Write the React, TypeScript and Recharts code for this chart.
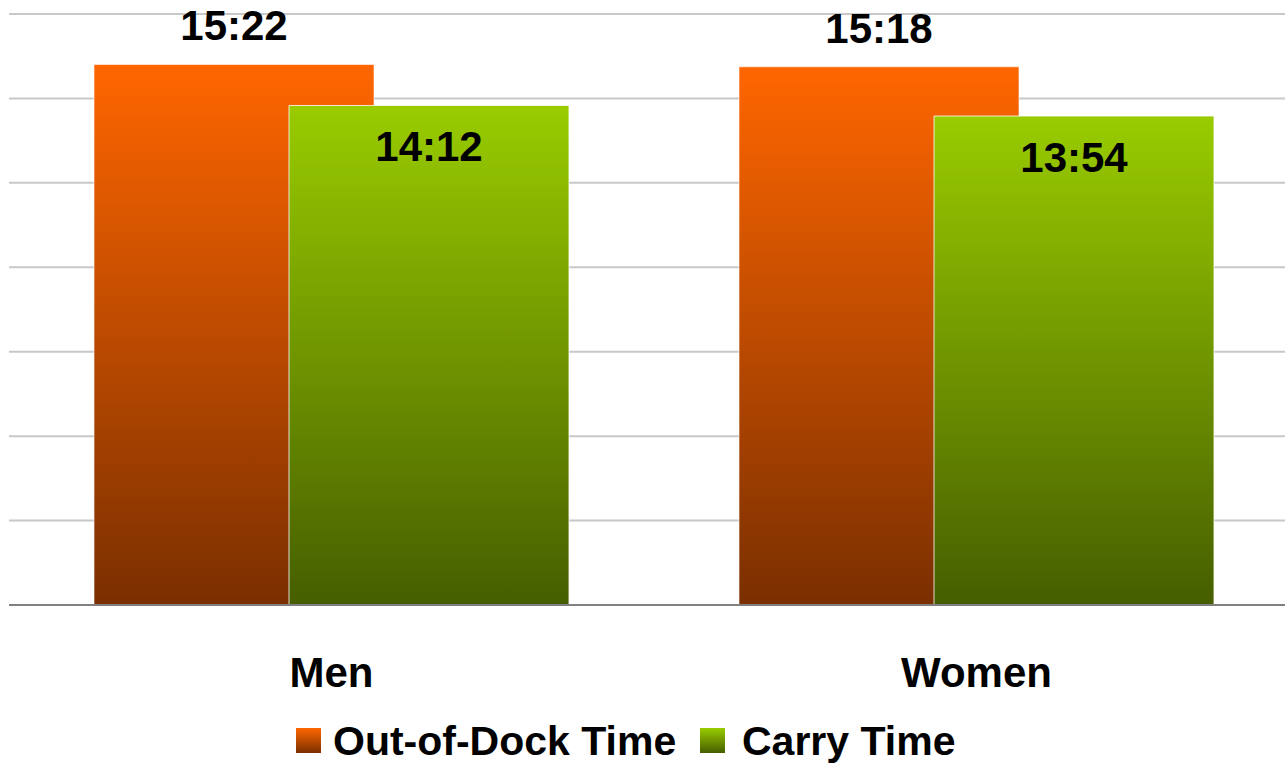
import { BarChart, Bar, XAxis, YAxis, CartesianGrid, LabelList } from "recharts";

// times in seconds
const categories = ["Men", "Women"];
const outOfDock = [922, 918]; // 15:22, 15:18
const carryTime = [852, 834]; // 14:12, 13:54
const yTicks = [0, 144, 288, 432, 576, 720, 864, 1008];

const chartData = categories.map((name, i) => ({
  name,
  outOfDock: outOfDock[i],
  carry: carryTime[i],
}));

const FONT = '"Liberation Sans", Arial, sans-serif';

const fmt = (sec: number) => {
  const m = Math.floor(sec / 60);
  const s = sec % 60;
  return `${m}:${s < 10 ? "0" : ""}${s}`;
};

const makeLabel = (dy: number) => (props: any) => {
  const { x, y, width, value } = props;
  return (
    <text
      x={x + width / 2}
      y={y + dy}
      textAnchor="middle"
      fontFamily={FONT}
      fontWeight="bold"
      fontSize={42}
      fill="#000"
    >
      {fmt(value)}
    </text>
  );
};

const CategoryTick = ({ x, y, payload }: any) => (
  <text
    x={x}
    y={y + 82}
    textAnchor="middle"
    fontFamily={FONT}
    fontWeight="bold"
    fontSize={42}
    fill="#000"
  >
    {payload.value}
  </text>
);

export default function App() {
  return (
    <div
      style={{
        position: "absolute",
        left: 0,
        top: 0,
        width: 1285,
        height: 763,
        overflow: "hidden",
        background: "#fff",
        fontFamily: FONT,
      }}
    >
      <BarChart
        width={1299}
        height={763}
        data={chartData}
        margin={{ top: 14, right: 0, left: 9, bottom: 0 }}
        barSize={280}
        barGap={-85}
      >
        <defs>
          <linearGradient id="gOrange" x1="0" y1="0" x2="0" y2="1">
            <stop offset="0%" stopColor="#ff6600" />
            <stop offset="100%" stopColor="#7a2f00" />
          </linearGradient>
          <linearGradient id="gGreen" x1="0" y1="0" x2="0" y2="1">
            <stop offset="0%" stopColor="#99cc00" />
            <stop offset="100%" stopColor="#465e00" />
          </linearGradient>
        </defs>
        <CartesianGrid vertical={false} stroke="#c8c8c8" strokeWidth={2} />
        <XAxis
          dataKey="name"
          height={158}
          axisLine={{ stroke: "#808080", strokeWidth: 2 }}
          tickLine={false}
          tickSize={0}
          tickMargin={0}
          tick={<CategoryTick />}
        />
        <YAxis hide width={0} domain={[0, 1008]} ticks={yTicks} />
        <Bar
          dataKey="outOfDock"
          fill="url(#gOrange)"
          stroke="#ffffff"
          strokeOpacity={0.6}
          strokeWidth={1}
          isAnimationActive={false}
        >
          <LabelList dataKey="outOfDock" content={makeLabel(-24)} />
        </Bar>
        <Bar
          dataKey="carry"
          fill="url(#gGreen)"
          stroke="#ffffff"
          strokeOpacity={0.8}
          strokeWidth={1}
          isAnimationActive={false}
        >
          <LabelList dataKey="carry" content={makeLabel(56)} />
        </Bar>
      </BarChart>

      {/* legend */}
      <div style={{ position: "absolute", left: 296, top: 728, width: 25, height: 25, background: "linear-gradient(#ff6600, #7a2f00)" }} />
      <div style={{ position: "absolute", left: 333, top: 720, fontSize: 41, fontWeight: "bold", lineHeight: "42px", whiteSpace: "nowrap" }}>
        Out-of-Dock Time
      </div>
      <div style={{ position: "absolute", left: 700, top: 728, width: 25, height: 25, background: "linear-gradient(#99cc00, #465e00)" }} />
      <div style={{ position: "absolute", left: 742, top: 720, fontSize: 41, fontWeight: "bold", lineHeight: "42px", whiteSpace: "nowrap" }}>
        Carry Time
      </div>
    </div>
  );
}
